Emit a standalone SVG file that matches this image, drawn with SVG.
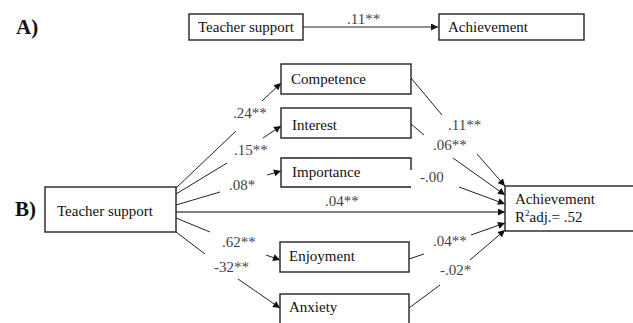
<svg xmlns="http://www.w3.org/2000/svg" width="633" height="323" viewBox="0 0 633 323">
<defs>
<marker id="ah" viewBox="0 0 10 10" refX="10" refY="5" markerWidth="8" markerHeight="7" markerUnits="userSpaceOnUse" orient="auto">
<path d="M0,0 L10,5 L0,10 z" fill="#111"/>
</marker>
<style>
text{font-family:'Liberation Serif','DejaVu Serif','Times New Roman',serif}
.box{fill:#fff;stroke:#222;stroke-width:1.4}
.t{font-size:15px;fill:#111}
.lb{font-size:15px;fill:#444}
.big{font-size:21px;font-weight:bold;fill:#111}
.c{fill:none;stroke:#222;stroke-width:1}
.ca{fill:none;stroke:#222;stroke-width:1;marker-end:url(#ah)}
.cg{fill:none;stroke:#808080;stroke-width:1.8;marker-end:url(#ah)}
</style>
</defs>
<rect width="633" height="323" fill="#fff"/>

<g font-family="Liberation Serif, DejaVu Serif, serif">
<text class="big" x="16" y="34" font-family="Liberation Serif, serif">A)</text>
<text class="big" x="15" y="216" font-family="Liberation Serif, serif">B)</text>
</g>

<g id="connectors">
<line class="ca" x1="303" y1="27" x2="438" y2="27"/>
<line class="c" x1="176" y1="188" x2="236" y2="131"/>
<line class="ca" x1="262" y1="101" x2="281" y2="83"/>
<line class="c" x1="176" y1="194" x2="227" y2="163"/>
<line class="ca" x1="263" y1="138" x2="281" y2="126"/>
<line class="c" x1="176" y1="205" x2="220" y2="192"/>
<line class="ca" x1="267" y1="175" x2="281" y2="171"/>
<line class="cg" x1="176" y1="212" x2="505" y2="212"/>
<line class="c" x1="176" y1="218" x2="210" y2="232"/>
<line class="ca" x1="266" y1="255" x2="280" y2="260"/>
<line class="c" x1="176" y1="232" x2="205" y2="254"/>
<line class="ca" x1="238" y1="279" x2="280" y2="308"/>
<line class="c" x1="411" y1="78" x2="442" y2="115"/>
<line class="ca" x1="477" y1="154" x2="505" y2="186"/>
<line class="c" x1="411" y1="124" x2="424" y2="135"/>
<line class="ca" x1="453" y1="158" x2="505" y2="195"/>
<line class="ca" x1="459" y1="187" x2="505" y2="204"/>
<line class="c" x1="409" y1="259" x2="424" y2="254"/>
<line class="ca" x1="471" y1="235" x2="505" y2="223"/>
<line class="c" x1="409" y1="308" x2="440" y2="285"/>
<line class="ca" x1="470" y1="260" x2="505" y2="230"/>
</g>

<g id="labels" font-family="Liberation Serif, serif">
<text class="lb" x="347" y="24" font-family="Liberation Serif, serif">.11**</text>
<text class="lb" x="233" y="118" font-family="Liberation Serif, serif">.24**</text>
<text class="lb" x="234" y="155" font-family="Liberation Serif, serif">.15**</text>
<text class="lb" x="229" y="190" font-family="Liberation Serif, serif">.08*</text>
<text class="lb" x="325" y="206" font-family="Liberation Serif, serif">.04**</text>
<text class="lb" x="222" y="247" font-family="Liberation Serif, serif">.62**</text>
<text class="lb" x="214" y="272" font-family="Liberation Serif, serif">-32**</text>
<text class="lb" x="448" y="130" font-family="Liberation Serif, serif">.11**</text>
<text class="lb" x="433" y="150" font-family="Liberation Serif, serif">.06**</text>
<text class="lb" x="420" y="182" font-family="Liberation Serif, serif">-.00</text>
<text class="lb" x="433" y="246" font-family="Liberation Serif, serif">.04**</text>
<text class="lb" x="440" y="275" font-family="Liberation Serif, serif">-.02*</text>
</g>

<g id="a-teacher-support">
<rect class="box" x="189" y="14" width="114" height="26"/>
<text class="t" x="198" y="32" font-family="Liberation Serif, serif">Teacher support</text>
</g>
<g id="a-achievement">
<rect class="box" x="439" y="14" width="145" height="26"/>
<text class="t" x="448" y="32" font-family="Liberation Serif, serif">Achievement</text>
</g>

<g id="b-teacher-support">
<rect class="box" x="45" y="187" width="131" height="45"/>
<text class="t" x="57" y="216" font-family="Liberation Serif, serif">Teacher support</text>
</g>
<g id="competence">
<rect class="box" x="281" y="64" width="130" height="30"/>
<text class="t" x="291" y="84" font-family="Liberation Serif, serif">Competence</text>
</g>
<g id="interest">
<rect class="box" x="281" y="108" width="130" height="30"/>
<text class="t" x="292" y="130" font-family="Liberation Serif, serif">Interest</text>
</g>
<g id="importance">
<path class="box" d="M411,170 V158 H281 V187 H411"/>
<text class="t" x="292" y="177" font-family="Liberation Serif, serif">Importance</text>
</g>
<g id="enjoyment">
<rect class="box" x="280" y="242" width="129" height="30"/>
<text class="t" x="289" y="261" font-family="Liberation Serif, serif">Enjoyment</text>
</g>
<g id="anxiety">
<rect class="box" x="280" y="294" width="129" height="40"/>
<text class="t" x="289" y="312" font-family="Liberation Serif, serif">Anxiety</text>
</g>
<g id="b-achievement">
<rect class="box" x="505" y="186" width="140" height="45"/>
<text class="t" x="515" y="204" font-family="Liberation Serif, serif">Achievement</text>
<text class="t" x="515" y="222" font-family="Liberation Serif, serif">R<tspan font-size="9" dy="-6">2</tspan><tspan dy="6">adj.= .52</tspan></text>
</g>
</svg>
